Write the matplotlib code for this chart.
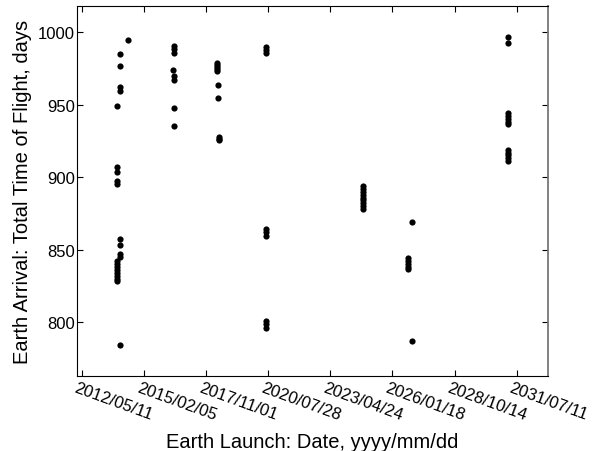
import numpy as np
import matplotlib
matplotlib.use('Agg')
import matplotlib.pyplot as plt
import matplotlib.dates as mdates
import matplotlib.transforms as mtransforms

plt.rcParams['font.family'] = ['Liberation Sans', 'DejaVu Sans']

# launch dates and total time of flight (days) per trajectory group
launch_dates = ['2013-11-25', '2014-01-22', '2014-05-31',
                '2016-05-14', '2016-06-09',
                '2018-04-22', '2018-05-18', '2018-05-30',
                '2020-06-19', '2024-10-07',
                '2026-10-01', '2026-11-29', '2031-02-21']
tof_groups = [
    [948.8, 906.8, 903.8, 897.6, 895.3, 842, 840, 838, 836, 834, 832, 830, 828.7],
    [984.8, 976.4, 962.3, 959.6, 857.4, 853.3, 847.1, 844.8, 784.4],
    [994.5],
    [974],
    [990.6, 988.5, 985.3, 970, 967.1, 947.6, 935.2],
    [979, 977.5, 976, 974.5, 973.5],
    [963.8, 954.6],
    [928, 926.5, 925.5],
    [989.9, 987.5, 985.7, 864.2, 862.3, 859.3, 801.1, 799, 796],
    [894, 892, 890, 888, 886, 884, 882, 880, 878],
    [844, 842, 840, 838, 836.5],
    [869.3, 786.9],
    [996.3, 992.2, 944, 942, 940, 938, 936.5, 919, 917, 915, 913, 911],
]

tick_start = np.datetime64('2012-05-11')
tick_dates = tick_start + np.arange(8) * np.timedelta64(1000, 'D')
y_ticks = [800, 850, 900, 950, 1000]

fig = plt.figure(figsize=(6.03, 4.52), dpi=100)
ax = fig.add_axes([0.1277, 0.166, 0.7806, 0.8185])
for d, vals in zip(launch_dates, tof_groups):
    ax.scatter([np.datetime64(d)] * len(vals), vals, s=20, c='black', linewidths=0)

ax.set_xlim(tick_start - np.timedelta64(76, 'D'), tick_dates[-1] + np.timedelta64(500, 'D'))
ax.set_ylim(763, 1018)
ax.set_xticks(tick_dates)
ax.xaxis.set_major_formatter(mdates.DateFormatter('%Y/%m/%d'))
ax.set_yticks(y_ticks)
ax.tick_params(direction='in', top=True, right=True, labelsize=12, length=4)
ax.tick_params(axis='x', pad=3)
ax.tick_params(axis='y', pad=1.5)
offset = mtransforms.ScaledTranslation(-4 / 100, 0, fig.dpi_scale_trans)
for lab in ax.get_xticklabels():
    lab.set_rotation(-20)
    lab.set_rotation_mode('anchor')
    lab.set_ha('left')
    lab.set_va('top')
    lab.set_transform(lab.get_transform() + offset)
ax.spines['right'].set_color('#777777')
ax.spines['right'].set_linewidth(1.3)

ax.set_xlabel('Earth Launch: Date, yyyy/mm/dd', fontsize=14.5, labelpad=6.5)
ax.set_ylabel('Earth Arrival: Total Time of Flight, days', fontsize=14.5, labelpad=4)

fig.savefig('out.png', dpi=100)
